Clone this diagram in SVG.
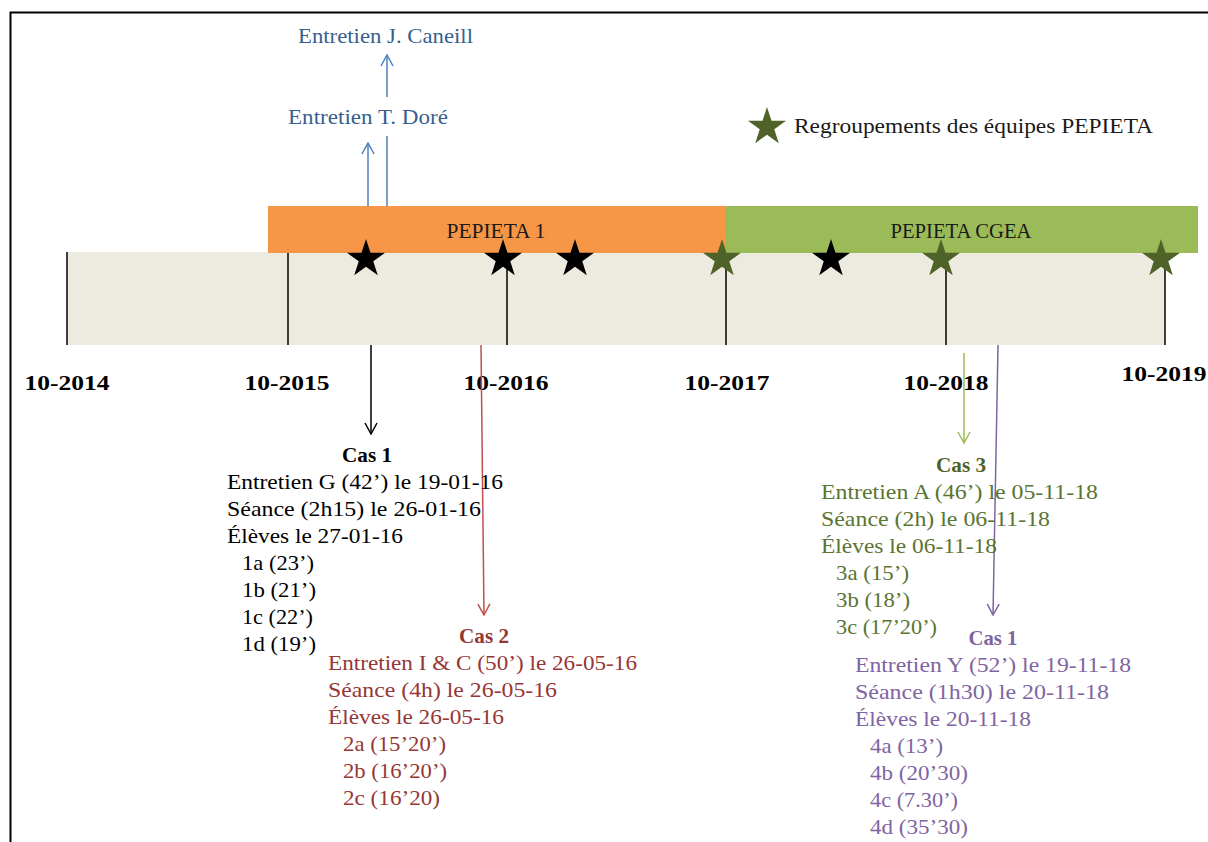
<svg xmlns="http://www.w3.org/2000/svg" width="1208" height="842" viewBox="0 0 1208 842">
<style>
text{font-family:"Liberation Serif","Times New Roman",serif;font-size:22px}
.b{font-weight:bold}
.m{text-anchor:middle}
.blue{fill:#365F91}
.blk{fill:#000}
.red{fill:#953735}
.grn{fill:#5A7431}
.grnb{fill:#4F6228}
.pur{fill:#8064A2}
.tick{stroke:#000;stroke-width:1.5}
</style>
<defs>
<path id="star" d="M0,-20 L4.49,-6.18 L19.02,-6.18 L7.27,2.36 L11.76,16.18 L0,7.64 L-11.76,16.18 L-7.27,2.36 L-19.02,-6.18 L-4.49,-6.18 Z"/>
<marker id="aBlue" markerUnits="userSpaceOnUse" markerWidth="14" markerHeight="16" viewBox="0 0 14 16" refX="12" refY="7" orient="auto"><path d="M1,1 L12,7 L1,13" fill="none" stroke="#4F81BD" stroke-width="1.5"/></marker>
<marker id="aBlack" markerUnits="userSpaceOnUse" markerWidth="14" markerHeight="16" viewBox="0 0 14 16" refX="12" refY="7" orient="auto"><path d="M1,1 L12,7 L1,13" fill="none" stroke="#000" stroke-width="1.5"/></marker>
<marker id="aRed" markerUnits="userSpaceOnUse" markerWidth="14" markerHeight="16" viewBox="0 0 14 16" refX="12" refY="7" orient="auto"><path d="M1,1 L12,7 L1,13" fill="none" stroke="#C0504D" stroke-width="1.5"/></marker>
<marker id="aGreen" markerUnits="userSpaceOnUse" markerWidth="14" markerHeight="16" viewBox="0 0 14 16" refX="12" refY="7" orient="auto"><path d="M1,1 L12,7 L1,13" fill="none" stroke="#9BBB59" stroke-width="1.5"/></marker>
<marker id="aPurple" markerUnits="userSpaceOnUse" markerWidth="14" markerHeight="16" viewBox="0 0 14 16" refX="12" refY="7" orient="auto"><path d="M1,1 L12,7 L1,13" fill="none" stroke="#8064A2" stroke-width="1.5"/></marker>
</defs>
<rect width="1208" height="842" fill="#fff"/>
<rect x="10.5" y="12.5" width="1220" height="850" fill="none" stroke="#000" stroke-width="2"/>

<g id="timeline">
<rect x="67" y="252" width="1098" height="93" fill="#EDEBE0"/>
</g>
<g id="pepieta1">
<rect x="268" y="206" width="457" height="47" fill="#F79646"/>
<text x="496" y="238" class="m" fill="#1a1a1a" textLength="99" lengthAdjust="spacingAndGlyphs">PEPIETA 1</text>
</g>
<g id="pepietaCGEA">
<rect x="725" y="206" width="473" height="47" fill="#9BBB59"/>
<text x="961" y="238" class="m" fill="#1a1a1a" textLength="141" lengthAdjust="spacingAndGlyphs">PEPIETA CGEA</text>
</g>
<g id="ticks">
<line class="tick" x1="67" y1="252" x2="67" y2="345"/>
<line class="tick" x1="288" y1="253" x2="288" y2="345"/>
<line class="tick" x1="507" y1="253" x2="507" y2="345"/>
<line class="tick" x1="726" y1="253" x2="726" y2="345"/>
<line class="tick" x1="946" y1="253" x2="946" y2="345"/>
<line class="tick" x1="1165" y1="253" x2="1165" y2="345"/>
</g>
<g id="years" class="b">
<text x="67" y="390" class="m b" textLength="85" lengthAdjust="spacingAndGlyphs">10-2014</text>
<text x="287" y="390" class="m b" textLength="85" lengthAdjust="spacingAndGlyphs">10-2015</text>
<text x="506" y="390" class="m b" textLength="85" lengthAdjust="spacingAndGlyphs">10-2016</text>
<text x="727" y="390" class="m b" textLength="85" lengthAdjust="spacingAndGlyphs">10-2017</text>
<text x="946" y="390" class="m b" textLength="85" lengthAdjust="spacingAndGlyphs">10-2018</text>
<text x="1164" y="381" class="m b" textLength="85" lengthAdjust="spacingAndGlyphs">10-2019</text>
</g>
<g id="stars">
<use href="#star" x="366" y="259" fill="#000"/>
<use href="#star" x="503" y="259" fill="#000"/>
<use href="#star" x="575" y="259" fill="#000"/>
<use href="#star" x="831" y="259" fill="#000"/>
<use href="#star" x="722" y="259" fill="#4F6228"/>
<use href="#star" x="941" y="259" fill="#4F6228"/>
<use href="#star" x="1161" y="259" fill="#4F6228"/>
</g>
<g id="legend">
<use href="#star" x="767" y="127" fill="#4F6228"/>
<text x="794" y="133" fill="#1a1a1a" textLength="359" lengthAdjust="spacingAndGlyphs">Regroupements des équipes PEPIETA</text>
</g>

<g id="connectors" fill="none" stroke-width="1.5">
<line x1="368" y1="206" x2="368" y2="143" stroke="#4F81BD" marker-end="url(#aBlue)"/>
<line x1="387" y1="206" x2="387" y2="136" stroke="#4F81BD"/>
<line x1="387" y1="97" x2="387" y2="55" stroke="#4F81BD" marker-end="url(#aBlue)"/>
<line x1="371" y1="345" x2="371" y2="434" stroke="#000" marker-end="url(#aBlack)"/>
<line x1="481" y1="345" x2="484" y2="615" stroke="#C0504D" marker-end="url(#aRed)"/>
<line x1="964" y1="353" x2="964" y2="443" stroke="#9BBB59" marker-end="url(#aGreen)"/>
<line x1="998" y1="345" x2="993" y2="615" stroke="#8064A2" marker-end="url(#aPurple)"/>
</g>

<g id="entretienCaneill">
<text x="298" y="43" class="blue" textLength="175" lengthAdjust="spacingAndGlyphs">Entretien J. Caneill</text>
</g>
<g id="entretienDore">
<text x="288" y="124" class="blue" textLength="160" lengthAdjust="spacingAndGlyphs">Entretien T. Doré</text>
</g>

<g id="cas1" class="blk">
<text x="367" y="462" class="m b" textLength="50" lengthAdjust="spacingAndGlyphs">Cas 1</text>
<text x="227" y="489" textLength="276" lengthAdjust="spacingAndGlyphs">Entretien G (42’) le 19-01-16</text>
<text x="227" y="516" textLength="254" lengthAdjust="spacingAndGlyphs">Séance (2h15) le 26-01-16</text>
<text x="227" y="543" textLength="176" lengthAdjust="spacingAndGlyphs">Élèves le 27-01-16</text>
<text x="242" y="570" textLength="72" lengthAdjust="spacingAndGlyphs">1a (23’)</text>
<text x="242" y="597" textLength="74" lengthAdjust="spacingAndGlyphs">1b (21’)</text>
<text x="242" y="624" textLength="71" lengthAdjust="spacingAndGlyphs">1c (22’)</text>
<text x="242" y="651" textLength="74" lengthAdjust="spacingAndGlyphs">1d (19’)</text>
</g>

<g id="cas2" class="red">
<text x="484" y="643" class="m b" textLength="50" lengthAdjust="spacingAndGlyphs">Cas 2</text>
<text x="328" y="670" textLength="309" lengthAdjust="spacingAndGlyphs">Entretien I &amp; C (50’) le 26-05-16</text>
<text x="328" y="697" textLength="229" lengthAdjust="spacingAndGlyphs">Séance (4h) le 26-05-16</text>
<text x="328" y="724" textLength="176" lengthAdjust="spacingAndGlyphs">Élèves le 26-05-16</text>
<text x="343" y="751" textLength="103" lengthAdjust="spacingAndGlyphs">2a (15’20’)</text>
<text x="343" y="778" textLength="104" lengthAdjust="spacingAndGlyphs">2b (16’20’)</text>
<text x="343" y="805" textLength="97" lengthAdjust="spacingAndGlyphs">2c (16’20)</text>
</g>

<g id="cas3" class="grn">
<text x="961" y="472" class="m b grnb" textLength="50" lengthAdjust="spacingAndGlyphs">Cas 3</text>
<text x="821" y="499" textLength="277" lengthAdjust="spacingAndGlyphs">Entretien A (46’) le 05-11-18</text>
<text x="821" y="526" textLength="229" lengthAdjust="spacingAndGlyphs">Séance (2h) le 06-11-18</text>
<text x="821" y="553" textLength="176" lengthAdjust="spacingAndGlyphs">Élèves le 06-11-18</text>
<text x="836" y="580" textLength="73" lengthAdjust="spacingAndGlyphs">3a (15’)</text>
<text x="836" y="607" textLength="74" lengthAdjust="spacingAndGlyphs">3b (18’)</text>
<text x="836" y="634" textLength="101" lengthAdjust="spacingAndGlyphs">3c (17’20’)</text>
</g>

<g id="cas1b" class="pur">
<text x="993" y="645" class="m b" textLength="49" lengthAdjust="spacingAndGlyphs">Cas 1</text>
<text x="855" y="672" textLength="276" lengthAdjust="spacingAndGlyphs">Entretien Y (52’) le 19-11-18</text>
<text x="855" y="699" textLength="254" lengthAdjust="spacingAndGlyphs">Séance (1h30) le 20-11-18</text>
<text x="855" y="726" textLength="176" lengthAdjust="spacingAndGlyphs">Élèves le 20-11-18</text>
<text x="870" y="753" textLength="73" lengthAdjust="spacingAndGlyphs">4a (13’)</text>
<text x="870" y="780" textLength="98" lengthAdjust="spacingAndGlyphs">4b (20’30)</text>
<text x="870" y="807" textLength="88" lengthAdjust="spacingAndGlyphs">4c (7.30’)</text>
<text x="870" y="834" textLength="98" lengthAdjust="spacingAndGlyphs">4d (35’30)</text>
</g>
</svg>
